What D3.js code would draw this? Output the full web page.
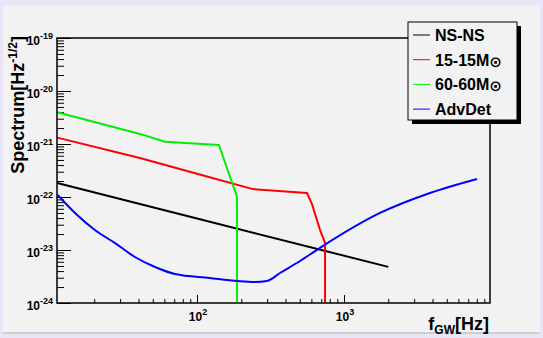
<!DOCTYPE html>
<html>
<head>
<meta charset="utf-8">
<script src="https://d3js.org/d3.v7.min.js"></script>
<style>
  body { margin: 0; background: #e9e5f6; }
  text { font-family: "Liberation Sans", Arial, sans-serif; font-weight: bold; fill: #000; }
</style>
</head>
<body>
<svg width="543" height="338"></svg>
<script>
// values
var nsFreq = [11.2, 100, 2000];
var nsAmp  = [1.84e-22, 3.93e-23, 4.8e-24];

var m15Freq = [11.2, 40.9, 100, 240, 560, 603, 687, 743, 743];
var m15Amp  = [1.32e-21, 5.45e-22, 2.74e-22, 1.41e-22, 1.19e-22, 7.6e-23, 2.38e-23, 1.36e-23, 1e-24];

var m60Freq = [11.2, 40.9, 60.5, 141, 187, 187];
var m60Amp  = [3.98e-21, 1.55e-21, 1.1e-21, 9.57e-22, 1.01e-22, 1e-24];

var advFreq = [11.28, 14.8, 20.2, 27.7, 37.8, 51.8, 70.8, 122, 190, 248, 299, 367, 502, 687, 1758, 3846, 8035];
var advAmp  = [1.09e-22, 4.99e-23, 2.38e-23, 1.35e-23, 7.38e-24, 4.78e-24, 3.53e-24, 2.97e-24, 2.6e-24, 2.5e-24,
               2.6e-24, 3.68e-24, 6.2e-24, 1.1e-23, 5.0e-23, 1.19e-22, 2.19e-22];

var yDecades = [-24, -23, -22, -21, -20, -19];
var xDecades = [2, 3];
var legendNames = ["NS-NS", "15-15M", "60-60M", "AdvDet"];
var legendSun = [false, true, true, false];
var colors = ["#000000", "#ff0000", "#00ee00", "#0000ff"];

var svg = d3.select("svg");

// canvas panel
svg.append("rect").attr("x", 3).attr("y", 5).attr("width", 537).attr("height", 328).attr("fill", "#f2f2f2");
svg.append("line").attr("x1", 3).attr("x2", 540).attr("y1", 333).attr("y2", 333).attr("stroke", "#c4c4c4").attr("stroke-width", 1.5);

var L = 57, R = 490, T = 38, B = 303;
var x = d3.scaleLog().domain([11.16, 9840]).range([L, R]);
var y = d3.scaleLog().domain([1e-24, 1e-19]).range([B, T]);

svg.append("clipPath").attr("id", "clip")
  .append("rect").attr("x", L).attr("y", T).attr("width", R - L).attr("height", B - T);

// ticks (inside the frame)
var yMajor = yDecades.map(d => Math.pow(10, d));
var yMinor = [];
yDecades.slice(0, -1).forEach(d => { for (var k = 2; k < 10; k++) yMinor.push(k * Math.pow(10, d)); });
svg.append("g").attr("transform", `translate(${L},0)`)
  .call(d3.axisRight(y).tickValues(yMinor).tickSize(7).tickFormat(""))
  .call(g => g.select(".domain").remove());
svg.append("g").attr("transform", `translate(${L},0)`)
  .call(d3.axisRight(y).tickValues(yMajor).tickSize(14).tickFormat(""))
  .call(g => g.select(".domain").remove());

var xMinor = [];
[1, 2, 3].forEach(d => { for (var k = 2; k < 10; k++) { var v = k * Math.pow(10, d); if (v > 11.2 && v < 9840) xMinor.push(v); } });
svg.append("g").attr("transform", `translate(0,${B})`)
  .call(d3.axisTop(x).tickValues(xMinor).tickSize(4).tickFormat(""))
  .call(g => g.select(".domain").remove());
svg.append("g").attr("transform", `translate(0,${B})`)
  .call(d3.axisTop(x).tickValues(xDecades.map(d => Math.pow(10, d))).tickSize(8).tickFormat(""))
  .call(g => g.select(".domain").remove());
svg.selectAll(".tick line").attr("stroke", "#000");

// tick labels
yDecades.forEach(d => {
  var t = svg.append("text").attr("x", 53).attr("y", y(Math.pow(10, d)) + 7)
    .attr("text-anchor", "end").attr("font-size", 12);
  t.append("tspan").text("10");
  t.append("tspan").attr("dy", -6).attr("font-size", 9).text(d);
});
xDecades.forEach(d => {
  var t = svg.append("text").attr("x", x(Math.pow(10, d)) + 1).attr("y", 321)
    .attr("text-anchor", "middle").attr("font-size", 12);
  t.append("tspan").text("10");
  t.append("tspan").attr("dy", -6).attr("font-size", 9).text(d);
});

// axis titles
var yt = svg.append("text").attr("transform", "translate(24,36) rotate(-90)")
  .attr("text-anchor", "end").attr("font-size", 18);
yt.append("tspan").text("Spectrum[Hz");
yt.append("tspan").attr("dy", -7).attr("font-size", 12).text("-1/2");
yt.append("tspan").attr("dy", 7).text("]");

var xt = svg.append("text").attr("x", 489).attr("y", 330).attr("text-anchor", "end").attr("font-size", 18);
xt.append("tspan").text("f");
xt.append("tspan").attr("dy", 4).attr("font-size", 12).text("GW");
xt.append("tspan").attr("dy", -4).text("[Hz]");

// curves
var series = [[nsFreq, nsAmp], [m15Freq, m15Amp], [m60Freq, m60Amp], [advFreq, advAmp]];
var plot = svg.append("g").attr("clip-path", "url(#clip)");
series.forEach((s, i) => {
  var pts = s[0].map((f, j) => [x(f), y(s[1][j])]);
  var line = d3.line().curve(i === 3 ? d3.curveMonotoneX : d3.curveLinear);
  plot.append("path").attr("d", line(pts)).attr("fill", "none")
    .attr("stroke", colors[i]).attr("stroke-width", 2).attr("stroke-linejoin", "round");
});

// frame
svg.append("rect").attr("x", L).attr("y", T).attr("width", R - L).attr("height", B - T)
  .attr("fill", "none").attr("stroke", "#000").attr("stroke-width", 1.5);

// legend
var lx = 408, ly = 22, lw = 109, lh = 98;
svg.append("rect").attr("x", lx + 4).attr("y", ly + 4).attr("width", lw).attr("height", lh).attr("fill", "#000");
svg.append("rect").attr("x", lx).attr("y", ly).attr("width", lw).attr("height", lh)
  .attr("fill", "#f2f2f2").attr("stroke", "#000").attr("stroke-width", 1);
legendNames.forEach((n, i) => {
  var cy = ly + 13 + i * 24.7;
  svg.append("line").attr("x1", lx + 5).attr("x2", lx + 22).attr("y1", cy).attr("y2", cy)
    .attr("stroke", colors[i]).attr("stroke-width", 1);
  var t = svg.append("text").attr("x", lx + 27).attr("y", cy + 6).attr("font-size", 16).text(n);
  if (legendSun[i]) t.append("tspan").attr("dy", 1).attr("font-size", 15)
    .attr("font-family", "DejaVu Sans").text("\u2299");
});
</script>
</body>
</html>
